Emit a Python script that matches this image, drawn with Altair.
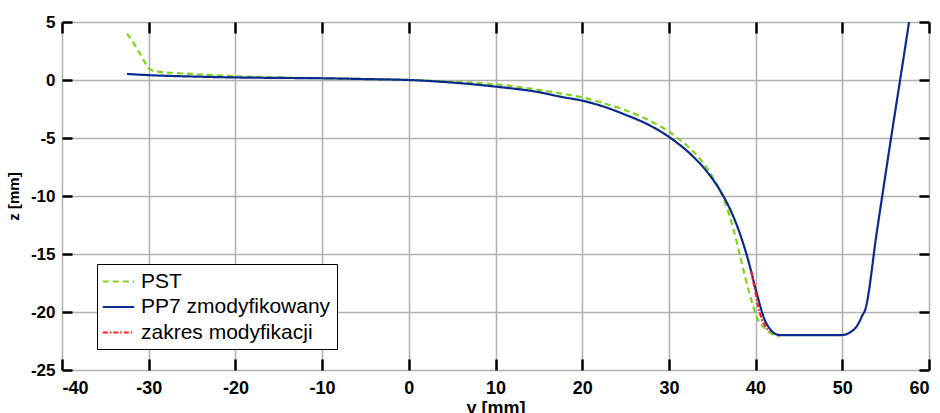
import altair as alt
import pandas as pd

# ---- data ----
series_names = ["PST", "PP7 zmodyfikowany", "zakres modyfikacji"]
series_colors = ["#7FD41C", "#0B2A8C", "#FF1E1E"]
series_dashes = [[6, 4], [1, 0], [5, 2, 1.5, 2]]

pst_y = [-32.5, -31.5, -30.5, -30.0, -29.0, -27.0, -25.0, -20.0, -15.0, -10.0, -5.0, 0.0,
         5.0, 10.0, 15.0, 17.5, 20.0, 22.5, 25.0, 27.5, 30.0, 31.0, 32.0, 33.0, 34.0, 35.0,
         36.0, 36.5, 37.0, 37.5, 38.0, 38.8, 39.4, 39.8, 40.35, 41.0, 41.5, 42.2, 42.8]
pst_z = [4.0, 2.9, 1.6, 1.0, 0.72, 0.6, 0.52, 0.32, 0.22, 0.15, 0.08, 0.0,
         -0.15, -0.37, -0.85, -1.15, -1.5, -2.0, -2.6, -3.4, -4.45, -5.0, -5.6, -6.3, -7.2, -8.3,
         -9.7, -10.6, -11.7, -13.0, -14.5, -17.0, -18.7, -19.7, -20.8, -21.35, -21.7, -22.0, -22.1]

pp7_y = [-32.5, -30.0, -25.0, -20.0, -15.0, -10.0, -5.0, 0.0, 5.0, 10.0, 15.0, 17.5, 20.0,
         22.5, 25.0, 27.5, 30.0, 31.0, 32.0, 33.0, 34.0, 35.0, 36.0, 37.0, 38.0, 39.0, 40.0,
         40.5, 41.0, 41.5, 42.0, 42.5, 43.0, 45.0, 48.0, 49.5, 50.3, 51.0, 51.6, 52.0, 52.3,
         52.6, 54.0, 55.5, 57.0, 57.7]
pp7_z = [0.52, 0.42, 0.3, 0.22, 0.18, 0.15, 0.08, 0.0, -0.22, -0.57, -1.05, -1.44, -1.78,
         -2.3, -3.0, -3.8, -4.9, -5.45, -6.05, -6.75, -7.55, -8.5, -9.65, -11.05, -12.85, -15.15,
         -18.0, -19.4, -20.6, -21.3, -21.75, -21.95, -22.0, -22.0, -22.0, -22.0, -21.95, -21.7,
         -21.3, -20.8, -20.3, -19.9, -13.0, -5.6, 1.6, 5.0]

mod_y = [39.5, 39.9, 40.3, 40.7, 41.1, 41.6]
mod_z = [-16.5, -18.0, -19.5, -20.6, -21.2, -21.7]

x_ticks = [-40, -30, -20, -10, 0, 10, 20, 30, 40, 50, 60]
y_ticks = [-25, -20, -15, -10, -5, 0, 5]

rows = []
for name, ys, zs in zip(series_names, [pst_y, pp7_y, mod_y], [pst_z, pp7_z, mod_z]):
    for i, (a, b) in enumerate(zip(ys, zs)):
        rows.append({"y": a, "z": b, "series": name, "order": i})
df = pd.DataFrame(rows)

FONT = "Liberation Sans"
xscale = alt.Scale(domain=[-40, 60], nice=False, zero=False)
yscale = alt.Scale(domain=[-25, 5], nice=False, zero=False)
LBL = "'' + datum.value"

lines = alt.Chart(df).mark_line(interpolate="monotone", strokeWidth=2.2, clip=True).encode(
    x=alt.X("y:Q", scale=xscale, title="y [mm]",
            axis=alt.Axis(orient="bottom", values=x_ticks, labelExpr=LBL, grid=True,
                          gridColor="#b0b0b0", gridWidth=1.5, domain=False,
                          tickColor="black", tickWidth=2.5, tickSize={"expr": "-11"},
                          labelPadding=20, labelFont=FONT, labelFontSize=18,
                          labelFontWeight="bold", labelColor="black",
                          titleFont=FONT, titleFontSize=18, titleFontWeight="bold",
                          titleColor="black", titlePadding=2)),
    y=alt.Y("z:Q", scale=yscale, title="z [mm]",
            axis=alt.Axis(orient="left", values=y_ticks, labelExpr=LBL, grid=True,
                          gridColor="#b0b0b0", gridWidth=1.5, domain=False,
                          tickColor="black", tickWidth=2.5, tickSize={"expr": "-10"},
                          labelPadding=17, labelFont=FONT, labelFontSize=17,
                          labelFontWeight="bold", labelColor="black",
                          titleFont=FONT, titleFontSize=15, titleFontWeight="bold",
                          titleColor="black", titlePadding=9)),
    color=alt.Color("series:N",
                    scale=alt.Scale(domain=series_names, range=series_colors),
                    sort=series_names,
                    legend=alt.Legend(title=None, orient="none", legendX=35, legendY=242,
                                      symbolType="M-1.5,0H1.5", symbolSize=441,
                                      symbolOffset=4,
                                      symbolStrokeWidth=2, labelFont=FONT,
                                      labelFontSize=21, labelColor="black", labelLimit=0,
                                      labelOffset=11, rowPadding=3.5, padding=6,
                                      strokeColor="black", fillColor="white")),
    strokeDash=alt.StrokeDash("series:N",
                              scale=alt.Scale(domain=series_names, range=series_dashes),
                              sort=series_names, legend=None),
    order=alt.Order("order:Q"),
)

frame = alt.Chart(df).mark_point(opacity=0).encode(
    x=alt.X("y:Q", scale=xscale, title=None,
            axis=alt.Axis(orient="top", values=x_ticks, labels=False, grid=False,
                          domain=False, tickColor="black", tickWidth=2.5,
                          tickSize={"expr": "-11"})),
    y=alt.Y("z:Q", scale=yscale, title=None,
            axis=alt.Axis(orient="right", values=y_ticks, labels=False, grid=False,
                          domain=False, tickColor="black", tickWidth=2.5,
                          tickSize={"expr": "-10"})),
)

chart = alt.layer(lines, frame).properties(
    width=867, height=348,
    autosize=alt.AutoSizeParams(type="none"),
    padding={"left": 62, "top": 22, "right": 11, "bottom": 43},
).configure_view(stroke="black", strokeWidth=2.5).configure(background="white")

chart.save("out.html", embed_options={"renderer": "svg", "actions": False})
